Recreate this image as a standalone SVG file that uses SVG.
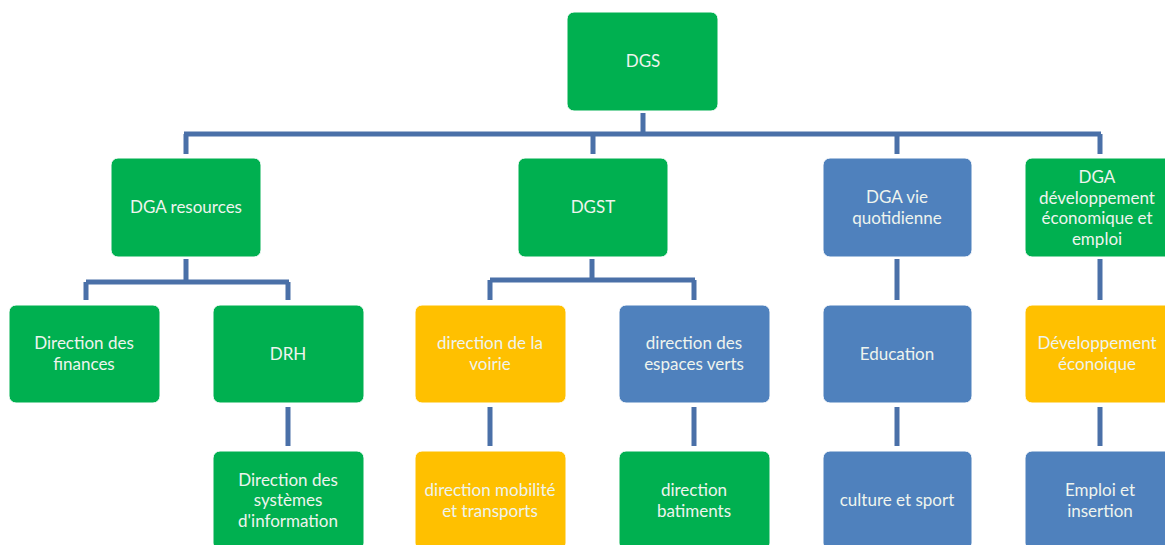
<svg xmlns="http://www.w3.org/2000/svg" width="1165" height="545" viewBox="0 0 1165 545">
<defs>
<style>
.g{fill:#00b050}
.b{fill:#4f81bd}
.y{fill:#ffc000}
.box{stroke:#ffffff;stroke-width:1}
.t{font-family:Lato,"Open Sans",sans-serif;font-size:17px;fill:#eef4ee;text-anchor:middle}
.c{fill:none;stroke:#4a70a8;stroke-width:5}
</style>
</defs>
<rect width="1165" height="545" fill="#ffffff"/>
<g id="connectors">
<path class="c" d="M643 113V134M184 134H1101M186 134V154M593 134V154M897 134V154M1100 134V154"/>
<path class="c" d="M186 259V282M86 282H289M86 282V300M288 282V300"/>
<path class="c" d="M592 259V280M490 280H695M490 280V300M694 280V300"/>
<path class="c" d="M897 259V300M1100 259V300"/>
<path class="c" d="M288 407V446M490 407V446M694 407V446M897 407V446M1100 407V446"/>
</g>
<g id="dgs"><rect class="box g" x="567" y="12" width="151" height="99" rx="7"/><text class="t" x="643" y="67">DGS</text></g>
<g id="dga-resources"><rect class="box g" x="111" y="158" width="150" height="99" rx="7"/><text class="t" x="186" y="213">DGA resources</text></g>
<g id="dgst"><rect class="box g" x="518" y="158" width="150" height="99" rx="7"/><text class="t" x="593" y="213">DGST</text></g>
<g id="dga-vie"><rect class="box b" x="823" y="158" width="149" height="99" rx="7"/><text class="t"><tspan x="897" y="203">DGA vie</tspan><tspan x="897" y="224">quotidienne</tspan></text></g>
<g id="dga-dev"><rect class="box g" x="1025" y="158" width="150" height="99" rx="7"/><text class="t"><tspan x="1097" y="183">DGA</tspan><tspan x="1097" y="204">développement</tspan><tspan x="1097" y="224">économique et</tspan><tspan x="1097" y="245">emploi</tspan></text></g>
<g id="dir-finances"><rect class="box g" x="9" y="305" width="151" height="98" rx="7"/><text class="t"><tspan x="84" y="349">Direction des</tspan><tspan x="84" y="370">finances</tspan></text></g>
<g id="drh"><rect class="box g" x="213" y="305" width="151" height="98" rx="7"/><text class="t" x="288" y="360">DRH</text></g>
<g id="voirie"><rect class="box y" x="415" y="305" width="151" height="98" rx="7"/><text class="t"><tspan x="490" y="349">direction de la</tspan><tspan x="490" y="370">voirie</tspan></text></g>
<g id="espaces-verts"><rect class="box b" x="619" y="305" width="151" height="98" rx="7"/><text class="t"><tspan x="694" y="349">direction des</tspan><tspan x="694" y="370">espaces verts</tspan></text></g>
<g id="education"><rect class="box b" x="823" y="305" width="149" height="98" rx="7"/><text class="t" x="897" y="360">Education</text></g>
<g id="dev-eco"><rect class="box y" x="1025" y="305" width="150" height="98" rx="7"/><text class="t"><tspan x="1097" y="349">Développement</tspan><tspan x="1097" y="370">éconoique</tspan></text></g>
<g id="dsi"><rect class="box g" x="213" y="451" width="151" height="99" rx="7"/><text class="t"><tspan x="288" y="486">Direction des</tspan><tspan x="288" y="506">systèmes</tspan><tspan x="288" y="527">d'information</tspan></text></g>
<g id="mobilite"><rect class="box y" x="415" y="451" width="151" height="99" rx="7"/><text class="t"><tspan x="490" y="496">direction mobilité</tspan><tspan x="490" y="517">et transports</tspan></text></g>
<g id="batiments"><rect class="box g" x="619" y="451" width="151" height="99" rx="7"/><text class="t"><tspan x="694" y="496">direction</tspan><tspan x="694" y="517">batiments</tspan></text></g>
<g id="culture"><rect class="box b" x="823" y="451" width="149" height="99" rx="7"/><text class="t" x="897" y="506">culture et sport</text></g>
<g id="emploi"><rect class="box b" x="1025" y="451" width="150" height="99" rx="7"/><text class="t"><tspan x="1100" y="496">Emploi et</tspan><tspan x="1100" y="517">insertion</tspan></text></g>
</svg>
